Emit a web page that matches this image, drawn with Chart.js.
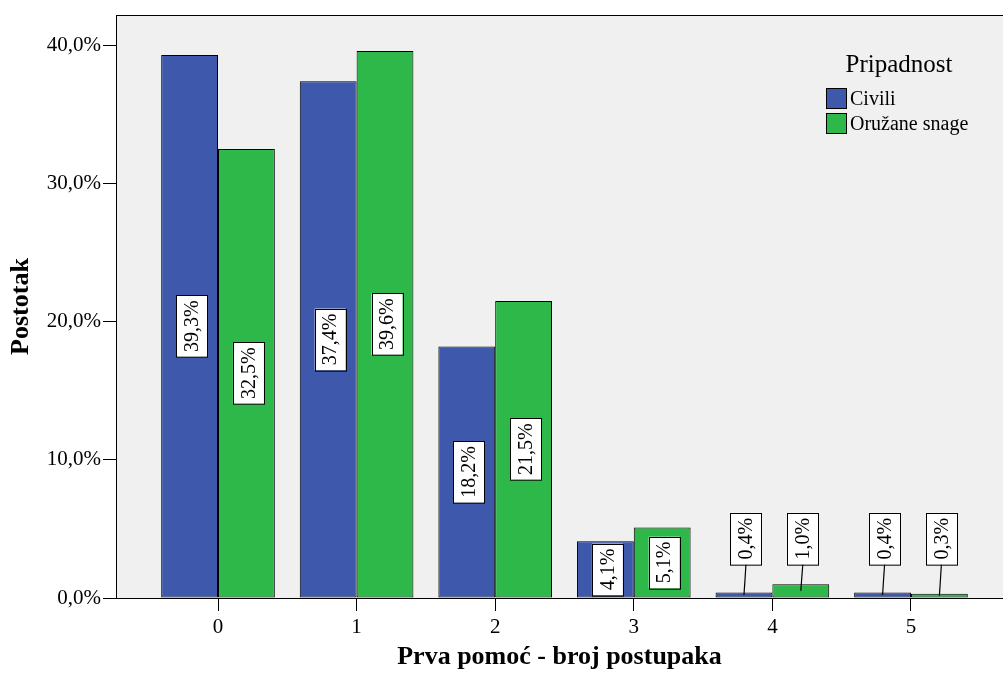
<!DOCTYPE html>
<html>
<head>
<meta charset="utf-8">
<script src="https://cdn.jsdelivr.net/npm/chart.js@4.4.1/dist/chart.umd.min.js"></script>
<style>
  html, body { margin: 0; padding: 0; background: #fff; }
  #wrap { width: 1003px; height: 675px; }
</style>
</head>
<body>
<div id="wrap"><canvas id="myChart" width="1003" height="675"></canvas></div>
<script>
// data
const categories = [0, 1, 2, 3, 4, 5];
const civili = [39.3, 37.4, 18.2, 4.1, 0.4, 0.4];
const oruzaneSnage = [32.5, 39.6, 21.5, 5.1, 1.0, 0.3];
const seriesNames = ['Civili', 'Oružane snage'];
const yTicks = [0, 10, 20, 30, 40];

const blue = 'rgb(62, 88, 172)';
const green = 'rgb(46, 184, 74)';
const serif = '"Liberation Serif", "DejaVu Serif", serif';

const fmt = v => v.toFixed(1).replace('.', ',') + '%';

// gray plot background + frame
const plotBg = {
    id: 'plotBg',
    beforeDraw(chart) {
        const {ctx, chartArea: a} = chart;
        ctx.save();
        ctx.fillStyle = '#f0f0f0';
        ctx.fillRect(a.left, a.top, a.right - a.left, a.bottom - a.top);
        ctx.strokeStyle = '#000';
        ctx.lineWidth = 1;
        ctx.strokeRect(a.left + 0.5, a.top + 0.5, a.right - a.left + 5, a.bottom - a.top);
        ctx.restore();
    }
};

// boxed, rotated value labels
const valueBoxes = {
    id: 'valueBoxes',
    afterDatasetsDraw(chart) {
        const ctx = chart.ctx;
        ctx.save();
        ctx.font = '20px ' + serif;
        chart.data.datasets.forEach((ds, di) => {
            const meta = chart.getDatasetMeta(di);
            meta.data.forEach((el, i) => {
                const txt = fmt(ds.data[i].y);
                const tw = ctx.measureText(txt).width;
                const boxW = 31;
                const boxH = tw + 10;
                const barH = el.base - el.y;
                let cy;
                let outside = false;
                if (barH >= boxH) {
                    cy = (el.y + el.base) / 2;
                } else {
                    cy = el.base - 33 - boxH / 2;
                    outside = true;
                }
                const cx = el.x + 2;
                if (outside) {
                    ctx.strokeStyle = '#000';
                    ctx.lineWidth = 1.2;
                    ctx.beginPath();
                    ctx.moveTo(cx, cy + boxH / 2);
                    ctx.lineTo(el.x, (el.y + el.base) / 2);
                    ctx.stroke();
                }
                ctx.fillStyle = '#fff';
                ctx.fillRect(cx - boxW / 2, cy - boxH / 2, boxW, boxH);
                ctx.strokeStyle = '#000';
                ctx.lineWidth = 1;
                ctx.strokeRect(Math.round(cx - boxW / 2) + 0.5, Math.round(cy - boxH / 2) + 0.5, boxW, boxH);
                ctx.translate(cx, cy);
                ctx.rotate(-Math.PI / 2);
                ctx.fillStyle = '#000';
                ctx.textAlign = 'center';
                ctx.textBaseline = 'middle';
                ctx.fillText(txt, 0, 1);
                ctx.setTransform(1, 0, 0, 1, 0, 0);
            });
        });
        ctx.restore();
    }
};

// legend inside the plot, top right
const innerLegend = {
    id: 'innerLegend',
    afterDraw(chart) {
        const ctx = chart.ctx;
        ctx.save();
        ctx.fillStyle = '#000';
        ctx.font = '25px ' + serif;
        ctx.textAlign = 'center';
        ctx.textBaseline = 'alphabetic';
        ctx.fillText('Pripadnost', 899, 72);
        ctx.font = '20px ' + serif;
        ctx.textAlign = 'left';
        chart.data.datasets.forEach((ds, i) => {
            const y = 88 + i * 25;
            ctx.fillStyle = ds.backgroundColor;
            ctx.fillRect(826, y, 20, 20);
            ctx.strokeStyle = '#000';
            ctx.lineWidth = 1;
            ctx.strokeRect(826.5, y + 0.5, 20, 20);
            ctx.fillStyle = '#000';
            ctx.fillText(ds.label, 850, y + 17);
        });
        ctx.restore();
    }
};

const ctx = document.getElementById('myChart').getContext('2d');

const myChart = new Chart(ctx, {
    type: 'bar',
    data: {
        datasets: [{
            label: seriesNames[0],
            data: categories.map((c, i) => ({x: c, y: civili[i]})),
            backgroundColor: blue,
            borderColor: '#000',
            borderWidth: 1,
            borderSkipped: false,
        }, {
            label: seriesNames[1],
            data: categories.map((c, i) => ({x: c, y: oruzaneSnage[i]})),
            backgroundColor: green,
            borderColor: '#000',
            borderWidth: 1,
            borderSkipped: false,
        }],
    },
    options: {
        responsive: false,
        animation: false,
        devicePixelRatio: 1,
        categoryPercentage: 0.82,
        barPercentage: 1,
        layout: {
            padding: {top: 15, right: 0, left: 0, bottom: 0},
        },
        scales: {
            x: {
                type: 'linear',
                offset: false,
                min: -0.736,
                max: 5.664,
                afterFit: scale => { scale.height = 77; },
                afterBuildTicks: scale => {
                    scale.ticks = categories.map(c => ({value: c}));
                },
                grid: {
                    offset: false,
                    drawOnChartArea: false,
                    tickLength: 13,
                    tickColor: '#000',
                },
                border: {color: '#000', width: 1},
                ticks: {
                    color: '#000',
                    padding: 4,
                    font: {family: serif, size: 21},
                    callback: v => String(v),
                },
                title: {
                    display: true,
                    text: 'Prva pomoć - broj postupaka',
                    color: '#000',
                    font: {family: serif, size: 26, weight: 'bold'},
                    padding: {top: 0, bottom: 2},
                },
            },
            y: {
                min: 0,
                max: 42.2,
                afterFit: scale => { scale.width = 116; },
                afterBuildTicks: scale => {
                    scale.ticks = yTicks.map(v => ({value: v}));
                },
                grid: {
                    drawOnChartArea: false,
                    tickLength: 13,
                    tickColor: '#000',
                },
                border: {color: '#000', width: 1},
                ticks: {
                    color: '#000',
                    padding: 2,
                    font: {family: serif, size: 21},
                    callback: v => fmt(v),
                },
                title: {
                    display: true,
                    text: 'Postotak',
                    color: '#000',
                    font: {family: serif, size: 26, weight: 'bold'},
                    padding: {top: 6, bottom: 0},
                },
            },
        },
        plugins: {
            legend: {display: false},
            tooltip: {enabled: false},
        },
    },
    plugins: [plotBg, valueBoxes, innerLegend],
});
</script>
</body>
</html>
